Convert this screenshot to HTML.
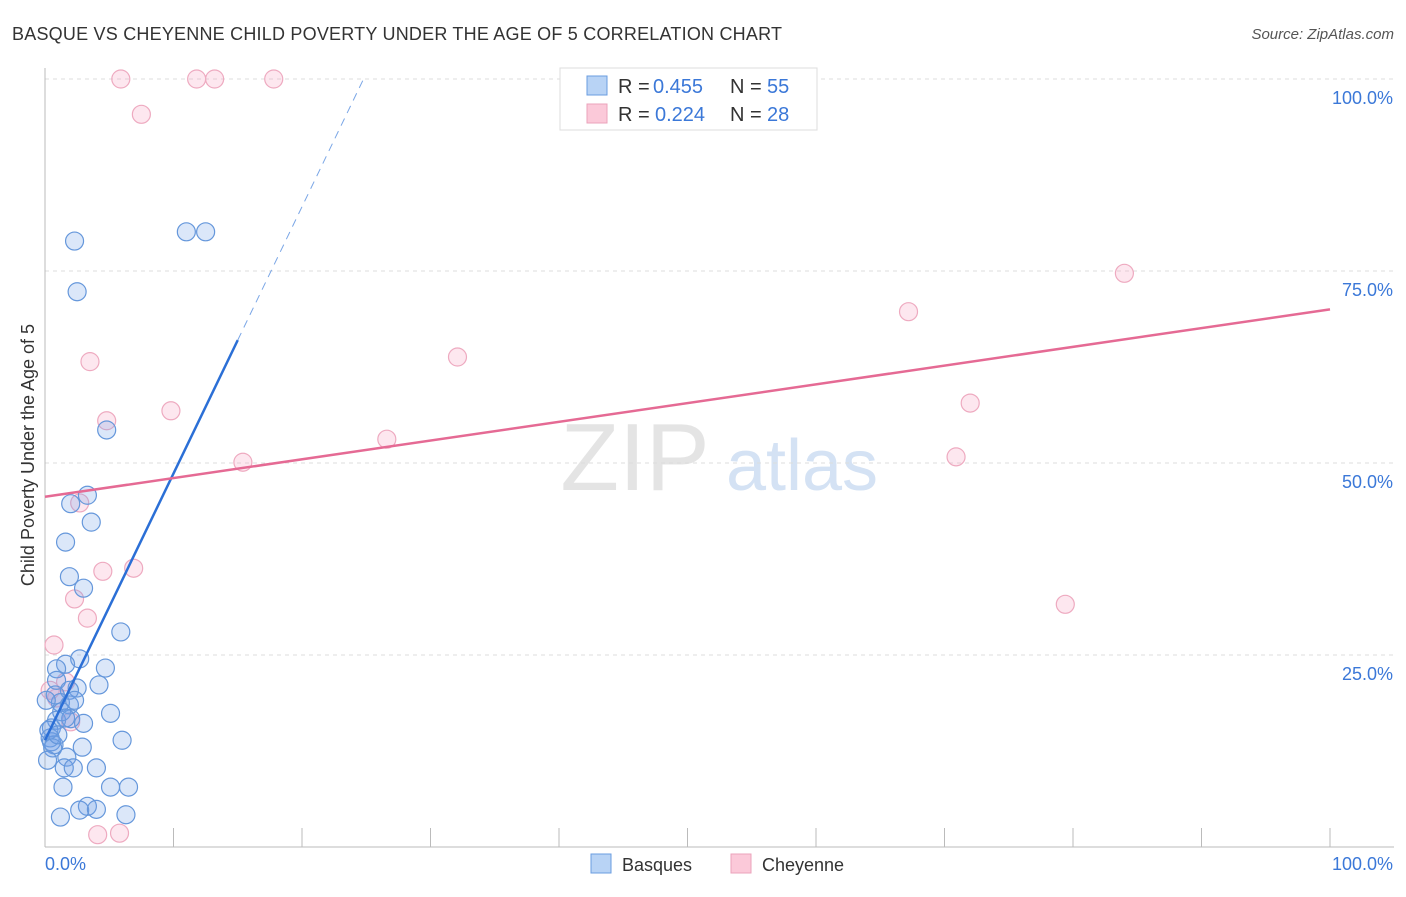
<!DOCTYPE html>
<html><head><meta charset="utf-8"><style>
body{margin:0;background:#fff;font-family:"Liberation Sans",sans-serif}
svg text{font-family:"Liberation Sans",sans-serif}
</style></head><body>
<svg id="c" width="1406" height="892">
<text x="12" y="40" font-size="18" fill="#333" textLength="770">BASQUE VS CHEYENNE CHILD POVERTY UNDER THE AGE OF 5 CORRELATION CHART</text>
<text x="1394" y="39" font-size="15" fill="#555" text-anchor="end" font-style="italic">Source: ZipAtlas.com</text>
<text x="635" y="490" font-size="96" fill="#e4e4e4" text-anchor="middle" font-family="Liberation Serif">ZIP</text>
<text x="802" y="490" font-size="72" fill="#d4e2f4" text-anchor="middle">atlas</text>
<text transform="translate(34,455) rotate(-90)" font-size="18" fill="#333" text-anchor="middle">Child Poverty Under the Age of 5</text>
<g id="grid"></g><g id="pts"></g><g id="lines"></g>
<g>
<rect x="560" y="68" width="257" height="62" fill="#fff" stroke="#ddd"/>
<rect x="587" y="76" width="20" height="19" fill="#b8d3f5" stroke="#6a9de0"/>
<rect x="587" y="104" width="20" height="19" fill="#fbc9d9" stroke="#eba3bb"/>
<text x="618" y="93" font-size="20" fill="#333">R =</text><text x="653" y="93" font-size="20" fill="#3b78d8">0.455</text>
<text x="730" y="93" font-size="20" fill="#333">N =</text><text x="767" y="93" font-size="20" fill="#3b78d8">55</text>
<text x="618" y="121" font-size="20" fill="#333">R =</text><text x="655" y="121" font-size="20" fill="#3b78d8">0.224</text>
<text x="730" y="121" font-size="20" fill="#333">N =</text><text x="767" y="121" font-size="20" fill="#3b78d8">28</text>
</g>
<g>
<rect x="591" y="854" width="20" height="19" fill="#b8d3f5" stroke="#6a9de0"/>
<text x="622" y="871" font-size="18" fill="#333">Basques</text>
<rect x="731" y="854" width="20" height="19" fill="#fbc9d9" stroke="#eba3bb"/>
<text x="762" y="871" font-size="18" fill="#333">Cheyenne</text>
</g>
</svg>
<script>
const yTicks=[25,50,75,100];
const yTickLabels=["25.0%","50.0%","75.0%","100.0%"];
const xTicks=[0,10,20,30,40,50,60,70,80,90,100];
const basqueX=[2.3,2.5,11.0,12.5,4.8,3.3,2.0,3.6,1.6,1.9,3.0,5.9,2.7,1.6,0.9,4.7,4.2,0.9,2.5,1.9,0.8,1.2,1.9,1.3,5.1,0.9,2.0,1.6,3.0,0.5,0.4,0.5,0.7,6.0,2.9,0.6,1.7,1.5,2.2,4.0,1.4,5.1,6.5,3.3,2.7,4.0,6.3,1.2,0.3,1.0,0.1,2.3,0.2];
const basqueY=[78.9,72.3,80.1,80.1,54.3,45.8,44.7,42.3,39.7,35.2,33.7,28.0,24.5,23.8,23.2,23.3,21.1,21.7,20.7,20.4,19.8,18.8,18.5,17.6,17.4,16.5,16.7,16.8,16.1,15.5,14.2,13.7,13.3,13.9,13.0,12.9,11.7,10.3,10.3,10.3,7.8,7.8,7.8,5.3,4.8,4.9,4.2,3.9,15.2,14.6,19.1,19.1,11.3];
const cheyX=[5.9,11.8,13.2,17.8,7.5,3.5,4.8,9.8,15.4,26.6,32.1,67.2,84.0,72.0,70.9,79.4,2.7,4.5,6.9,2.3,3.3,0.7,1.6,0.9,2.0,4.1,5.8,0.4];
const cheyY=[100,100,100,100,95.4,63.2,55.5,56.8,50.1,53.1,63.8,69.7,74.7,57.8,50.8,31.6,44.8,35.9,36.3,32.3,29.8,26.3,21.5,19.4,16.3,1.6,1.8,20.4];
const basqueFit=[13.9,66.0,100];
const cheyFit=[45.6,70.0];
const NS="http://www.w3.org/2000/svg";
const X=v=>45+v*12.85, Y=v=>847-v*7.68;
function mk(p,t,a){const e=document.createElementNS(NS,t);for(const k in a)e.setAttribute(k,a[k]);p.appendChild(e);return e;}
const g=document.getElementById('grid');
yTicks.forEach((t,i)=>{
 const l=mk(g,'line',{x1:45,x2:1394,y1:Y(t),y2:Y(t),stroke:'#ddd','stroke-dasharray':'4,4'});
 
 
 const tx=mk(g,'text',{x:1393,y:Y(t)+25,'font-size':18,fill:'#3b78d8','text-anchor':'end'});tx.textContent=yTickLabels[i];
 
 
});
const ax=mk(g,'line',{x1:45,x2:1394,y1:847,y2:847,stroke:'#bbb'});


const ay=mk(g,'line',{x1:45,x2:45,y1:68,y2:847,stroke:'#bbb'});


xTicks.forEach(t=>{const l=mk(g,'line',{x1:X(t),x2:X(t),y1:828,y2:847,stroke:'#bbb'});
 
 });
[[0,'0.0%','start',45],[100,'100.0%','end',1393]].forEach(a=>{const t=mk(g,'text',{x:a[3],y:870,'font-size':18,fill:'#3b78d8','text-anchor':a[2]});t.textContent=a[1];
 
 });
const p=document.getElementById('pts');
cheyX.forEach((v,i)=>{const c=mk(p,'circle',{cx:X(v),cy:Y(cheyY[i]),r:9,fill:'rgba(246,160,190,0.25)',stroke:'#eeaac0','stroke-width':1.2});
 
 });
basqueX.forEach((v,i)=>{const c=mk(p,'circle',{cx:X(v),cy:Y(basqueY[i]),r:9,fill:'rgba(110,160,230,0.25)',stroke:'#6597db','stroke-width':1.2});
 
 });
const L=document.getElementById('lines');
const slope=(basqueFit[1]-basqueFit[0])/15;
const xEnd=(basqueFit[2]-basqueFit[0])/slope;
const b1=mk(L,'line',{x1:X(0),y1:Y(basqueFit[0]),x2:X(15),y2:Y(basqueFit[1]),stroke:'#2b6fd6','stroke-width':2.5});


const b2=mk(L,'line',{x1:X(15),y1:Y(basqueFit[1]),x2:X(xEnd),y2:Y(basqueFit[2]),stroke:'#7aa6e6','stroke-width':1,'stroke-dasharray':'8,6'});


const c1=mk(L,'line',{x1:X(0),y1:Y(cheyFit[0]),x2:X(100),y2:Y(cheyFit[1]),stroke:'#e56a94','stroke-width':2.5});


</script>
</body></html>
